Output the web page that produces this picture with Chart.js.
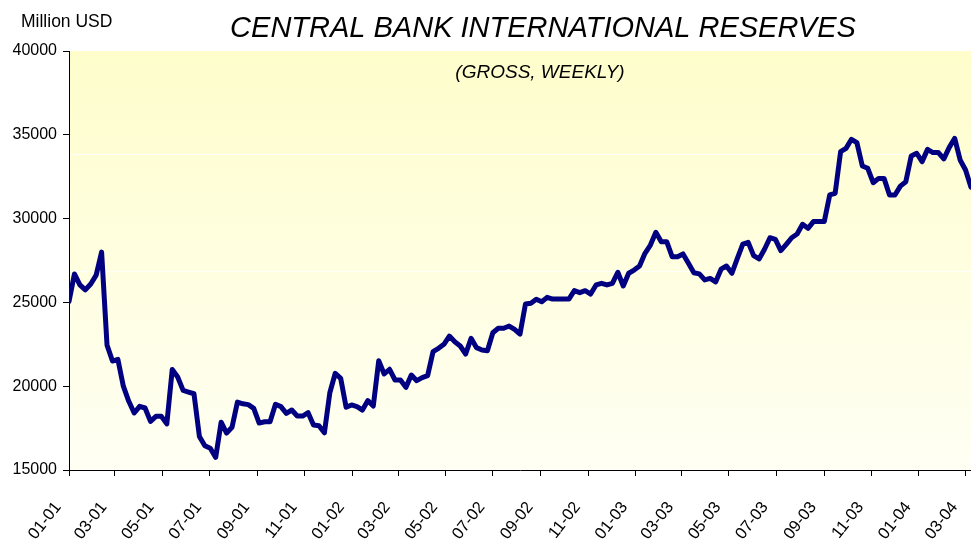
<!DOCTYPE html>
<html>
<head>
<meta charset="utf-8">
<script src="https://cdn.jsdelivr.net/npm/chart.js@4/dist/chart.umd.min.js"></script>
<style>
  html, body { margin: 0; padding: 0; background: #ffffff; }
  #wrap { width: 971px; height: 546px; position: relative; }
</style>
</head>
<body>
<div id="wrap"><canvas id="c" width="971" height="546"></canvas></div>
<script>
// ---- data ----
const titleText = "CENTRAL BANK INTERNATIONAL RESERVES";
const subtitleText = "(GROSS, WEEKLY)";
const unitText = "Million USD";
const firstWeek = "2001-01-01";           // date of the first weekly observation
const tickLabels = ["01-01","03-01","05-01","07-01","09-01","11-01","01-02","03-02","05-02","07-02","09-02","11-02","01-03","03-03","05-03","07-03","09-03","11-03","01-04","03-04"];
const yTicks = [15000, 20000, 25000, 30000, 35000, 40000];
const reserves = [
  25050,26700,26050,25750,26100,26630,28000,22450,21500,21600,
  20000,19100,18400,18800,18700,17900,18200,18200,17750,21000,
  20550,19750,19650,19550,17000,16450,16300,15750,17850,17200,
  17550,19050,18950,18900,18680,17800,17880,17880,18920,18780,
  18380,18580,18220,18220,18420,17680,17640,17220,19610,20770,
  20470,18740,18880,18780,18580,19140,18820,21520,20730,21010,
  20370,20370,19930,20670,20330,20510,20630,22060,22260,22500,
  22990,22650,22400,21920,22860,22300,22160,22120,23190,23460,
  23460,23590,23390,23110,24900,24950,25190,25040,25300,25200,
  25200,25200,25200,25700,25580,25700,25500,26040,26140,26040,
  26140,26800,25980,26740,26930,27170,27930,28420,29180,28620,
  28620,27730,27730,27890,27330,26770,26700,26340,26430,26220,
  26980,27170,26740,27630,28480,28580,27790,27590,28170,28860,
  28760,28090,28460,28860,29080,29660,29420,29820,29820,29820,
  31410,31510,33990,34190,34730,34530,33140,33000,32140,32400,
  32400,31410,31410,31940,32200,33740,33900,33400,34130,33940,
  33940,33560,34250,34790,33500,32900,31870
];

// ---- helpers to place dates on a linear day axis ----
const DAY = 86400000;
const t0 = Date.parse(firstWeek + "T00:00:00Z");
function labelToDay(lbl) {
  const [mm, yy] = lbl.split("-").map(Number);
  return Math.round((Date.UTC(2000 + yy, mm - 1, 1) - t0) / DAY);
}
const tickDays = tickLabels.map(labelToDay);
const points = reserves.map((v, i) => ({ x: i * 7, y: v }));
const lastDay = points[points.length - 1].x;

const FONT = '"Liberation Sans", Arial, sans-serif';

const bgPlugin = {
  id: 'bg',
  beforeDraw(chart) {
    const { ctx, chartArea: a } = chart;
    ctx.save();
    ctx.fillStyle = '#ffffff';
    ctx.fillRect(0, 0, chart.width, chart.height);
    const g = ctx.createLinearGradient(0, a.top, 0, a.bottom);
    g.addColorStop(0, '#fefdcb');
    g.addColorStop(1, '#fffff4');
    ctx.fillStyle = g;
    ctx.fillRect(a.left, a.top, a.right - a.left, a.bottom - a.top);
    // faint banding lines of the original gradient
    ctx.strokeStyle = 'rgba(255,255,255,0.9)';
    ctx.lineWidth = 1;
    [0.246, 0.525].forEach(f => {
      const y = Math.round(a.top + f * (a.bottom - a.top)) + 0.5;
      ctx.beginPath(); ctx.moveTo(a.left, y); ctx.lineTo(a.right, y); ctx.stroke();
    });
    ctx.restore();
  }
};

const textPlugin = {
  id: 'texts',
  afterDraw(chart) {
    const { ctx } = chart;
    ctx.save();
    ctx.fillStyle = '#000000';
    ctx.textBaseline = 'alphabetic';
    ctx.textAlign = 'center';
    ctx.font = 'italic 29px ' + FONT;
    ctx.fillText(titleText, 543, 37);
    ctx.font = 'italic 19px ' + FONT;
    ctx.fillText(subtitleText, 540, 78);
    ctx.textAlign = 'left';
    ctx.font = '17.5px ' + FONT;
    ctx.fillText(unitText, 21, 27);
    ctx.restore();
  }
};

new Chart(document.getElementById('c'), {
  type: 'line',
  data: {
    datasets: [{
      data: points,
      borderColor: '#000080',
      borderWidth: 5,
      pointRadius: 0,
      tension: 0,
      fill: false,
      borderJoinStyle: 'round',
      borderCapStyle: 'round'
    }]
  },
  options: {
    responsive: false,
    animation: false,
    devicePixelRatio: 1,
    layout: { padding: { top: 51, right: 0, left: 0, bottom: 0 } },
    plugins: { legend: { display: false }, tooltip: { enabled: false }, title: { display: false } },
    scales: {
      x: {
        type: 'linear',
        min: 0,
        max: lastDay,
        position: 'bottom',
        afterBuildTicks(s) { s.ticks = tickDays.map(v => ({ value: v })); },
        afterFit(s) { s.height = 76; s.paddingLeft = 0; s.paddingRight = 0; },
        grid: { display: true, drawOnChartArea: false, drawTicks: true, tickLength: 6, color: '#000000', lineWidth: 1 },
        border: { display: true, color: '#000000', width: 1 },
        ticks: {
          autoSkip: false,
          minRotation: 52,
          maxRotation: 52,
          padding: 22,
          labelOffset: -11,
          color: '#000000',
          font: { family: FONT, size: 16.5 },
          callback(v, i) { return tickLabels[i]; }
        }
      },
      y: {
        min: yTicks[0],
        max: yTicks[yTicks.length - 1],
        afterBuildTicks(s) { s.ticks = yTicks.map(v => ({ value: v })); },
        afterFit(s) { s.width = 69; },
        grid: { display: true, drawOnChartArea: false, drawTicks: true, tickLength: 6, color: '#000000', lineWidth: 1 },
        border: { display: true, color: '#000000', width: 1 },
        ticks: {
          padding: 6,
          color: '#000000',
          font: { family: FONT, size: 16 },
          callback(v) { return String(v); }
        }
      }
    }
  },
  plugins: [bgPlugin, textPlugin]
});
</script>
</body>
</html>
